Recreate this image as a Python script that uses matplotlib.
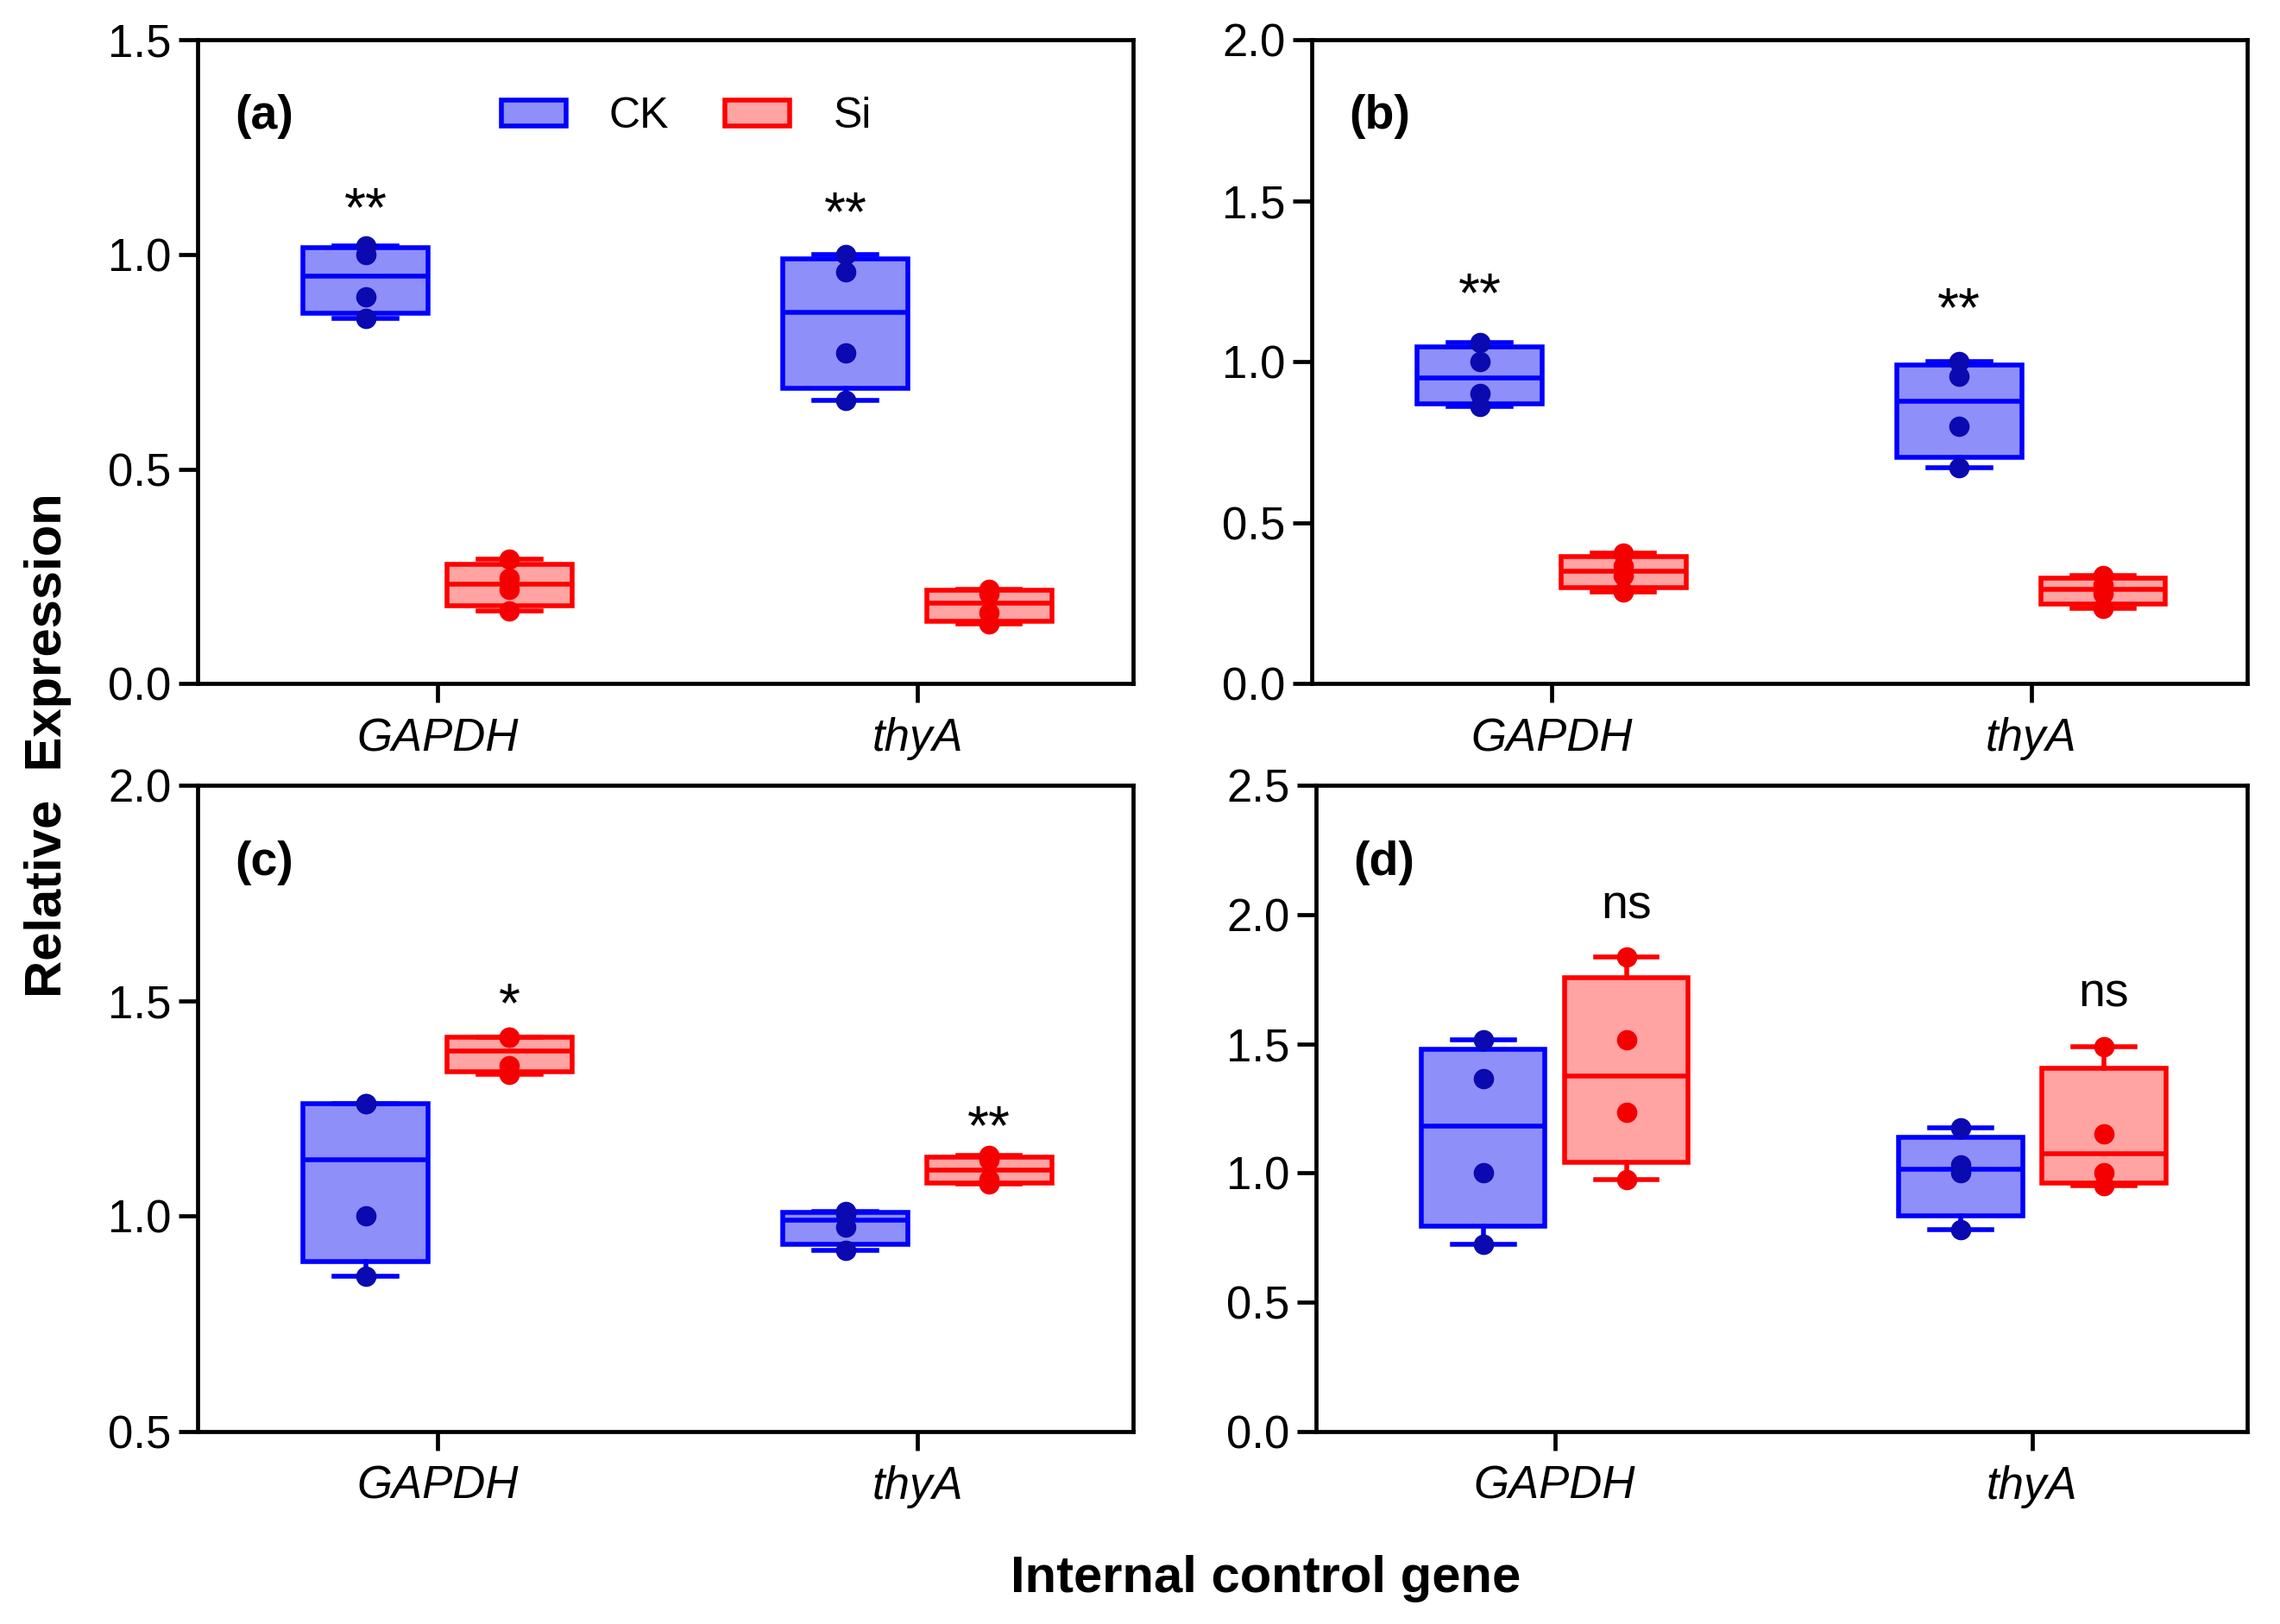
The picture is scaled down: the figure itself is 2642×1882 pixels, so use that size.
import numpy as np
import matplotlib
matplotlib.use("Agg")
import matplotlib.pyplot as plt
from matplotlib.patches import Patch

plt.rcParams['font.family'] = ['Liberation Sans', 'DejaVu Sans']

genes = ["GAPDH", "thyA"]
groups = ["CK", "Si"]

# four replicates per box
a_ck = [[1.02, 1.00, 0.90, 0.85], [1.00, 0.96, 0.77, 0.66]]
a_si = [[0.29, 0.245, 0.22, 0.17], [0.22, 0.21, 0.165, 0.14]]
b_ck = [[1.06, 1.00, 0.90, 0.86], [1.00, 0.955, 0.80, 0.67]]
b_si = [[0.405, 0.365, 0.335, 0.285], [0.335, 0.305, 0.28, 0.235]]
c_ck = [[1.26, 1.26, 1.00, 0.86], [1.01, 1.005, 0.975, 0.92]]
c_si = [[1.415, 1.415, 1.35, 1.33], [1.14, 1.13, 1.085, 1.075]]
d_ck = [[1.515, 1.365, 1.00, 0.725], [1.175, 1.03, 1.00, 0.78]]
d_si = [[1.835, 1.515, 1.235, 0.975], [1.49, 1.15, 1.00, 0.95]]

ylims = [(0, 1.5), (0, 2.0), (0.5, 2.0), (0, 2.5)]
yticks = [[0, 0.5, 1.0, 1.5], [0, 0.5, 1.0, 1.5, 2.0],
          [0.5, 1.0, 1.5, 2.0], [0, 0.5, 1.0, 1.5, 2.0, 2.5]]
panel_names = ["(a)", "(b)", "(c)", "(d)"]

# significance marks: (gene index, group, text, y)
marks_a = [(0, "CK", "**", 1.10), (1, "CK", "**", 1.09)]
marks_b = [(0, "CK", "**", 1.20), (1, "CK", "**", 1.155)]
marks_c = [(0, "Si", "*", 1.485), (1, "Si", "**", 1.20)]
marks_d = [(0, "Si", "ns", 2.03), (1, "Si", "ns", 1.69)]

edge = {"CK": "#0000FF", "Si": "#FF0000"}
fill = {"CK": "#8F8FFA", "Si": "#FFA3A3"}
dots = {"CK": "#0A0AB0", "Si": "#F50000"}
offset = {"CK": -0.15, "Si": 0.15}


def box_stats(vals):
    q1, med, q3 = np.percentile(vals, [25, 50, 75], method="weibull")
    return dict(med=med, q1=q1, q3=q3, whislo=min(vals), whishi=max(vals), fliers=[])


def draw_panel(ax, ck, si, marks, ylim, ticks, name):
    for grp, data in (("CK", ck), ("Si", si)):
        stats = [box_stats(v) for v in data]
        pos = [i + offset[grp] for i in range(len(genes))]
        ax.bxp(stats, positions=pos, widths=0.26, patch_artist=True,
               showfliers=False, capwidths=0.13,
               boxprops=dict(facecolor=fill[grp], edgecolor=edge[grp], linewidth=4.0),
               whiskerprops=dict(color=edge[grp], linewidth=4.0),
               capprops=dict(color=edge[grp], linewidth=4.0),
               medianprops=dict(color=edge[grp], linewidth=4.0))
        for p, v in zip(pos, data):
            ax.plot([p] * len(v), v, "o", color=dots[grp], ms=16, zorder=5)
    for gi, grp, txt, y in marks:
        fs = 40 if txt == "ns" else 46
        ax.text(gi + offset[grp], y, txt, ha="center", va="center", fontsize=fs)
    ax.set_xlim(-0.5, 1.45)
    ax.set_ylim(*ylim)
    ax.set_yticks(ticks)
    ax.set_yticklabels([f"{t:.1f}" for t in ticks])
    ax.set_xticks(range(len(genes)))
    ax.set_xticklabels(genes, style="italic")
    for s in ax.spines.values():
        s.set_linewidth(3.4)
    ax.tick_params(axis="both", direction="out", length=16, width=3.4, labelsize=38)
    ax.tick_params(axis="y", pad=6)
    ax.tick_params(axis="x", pad=12)
    ax.text(0.04, 0.88, name, transform=ax.transAxes, fontsize=40,
            fontweight="bold", ha="left", va="center")


fig = plt.figure(figsize=(26.42, 18.82), dpi=100)
ax_a = fig.add_axes([0.0867, 0.579, 0.4103, 0.3966])
ax_b = fig.add_axes([0.5753, 0.579, 0.4103, 0.3966])
ax_c = fig.add_axes([0.0867, 0.1185, 0.4103, 0.398])
ax_d = fig.add_axes([0.5772, 0.1185, 0.4083, 0.398])

draw_panel(ax_a, a_ck, a_si, marks_a, ylims[0], yticks[0], panel_names[0])
draw_panel(ax_b, b_ck, b_si, marks_b, ylims[1], yticks[1], panel_names[1])
draw_panel(ax_c, c_ck, c_si, marks_c, ylims[2], yticks[2], panel_names[2])
draw_panel(ax_d, d_ck, d_si, marks_d, ylims[3], yticks[3], panel_names[3])

handles = [Patch(facecolor=fill[g], edgecolor=edge[g], linewidth=4.0) for g in groups]
ax_a.legend(handles, groups, loc="center left", bbox_to_anchor=(0.283, 0.88),
            ncol=2, frameon=False, fontsize=36, handlelength=1.5, handleheight=0.55,
            columnspacing=1.3, handletextpad=1.0)

fig.text(0.021, 0.541, "Relative  Expression", rotation=90, ha="center", va="center",
         fontsize=43, fontweight="bold")
fig.text(0.555, 0.028, "Internal control gene", ha="center", va="center",
         fontsize=43, fontweight="bold")

fig.savefig("out.png", dpi=100)
